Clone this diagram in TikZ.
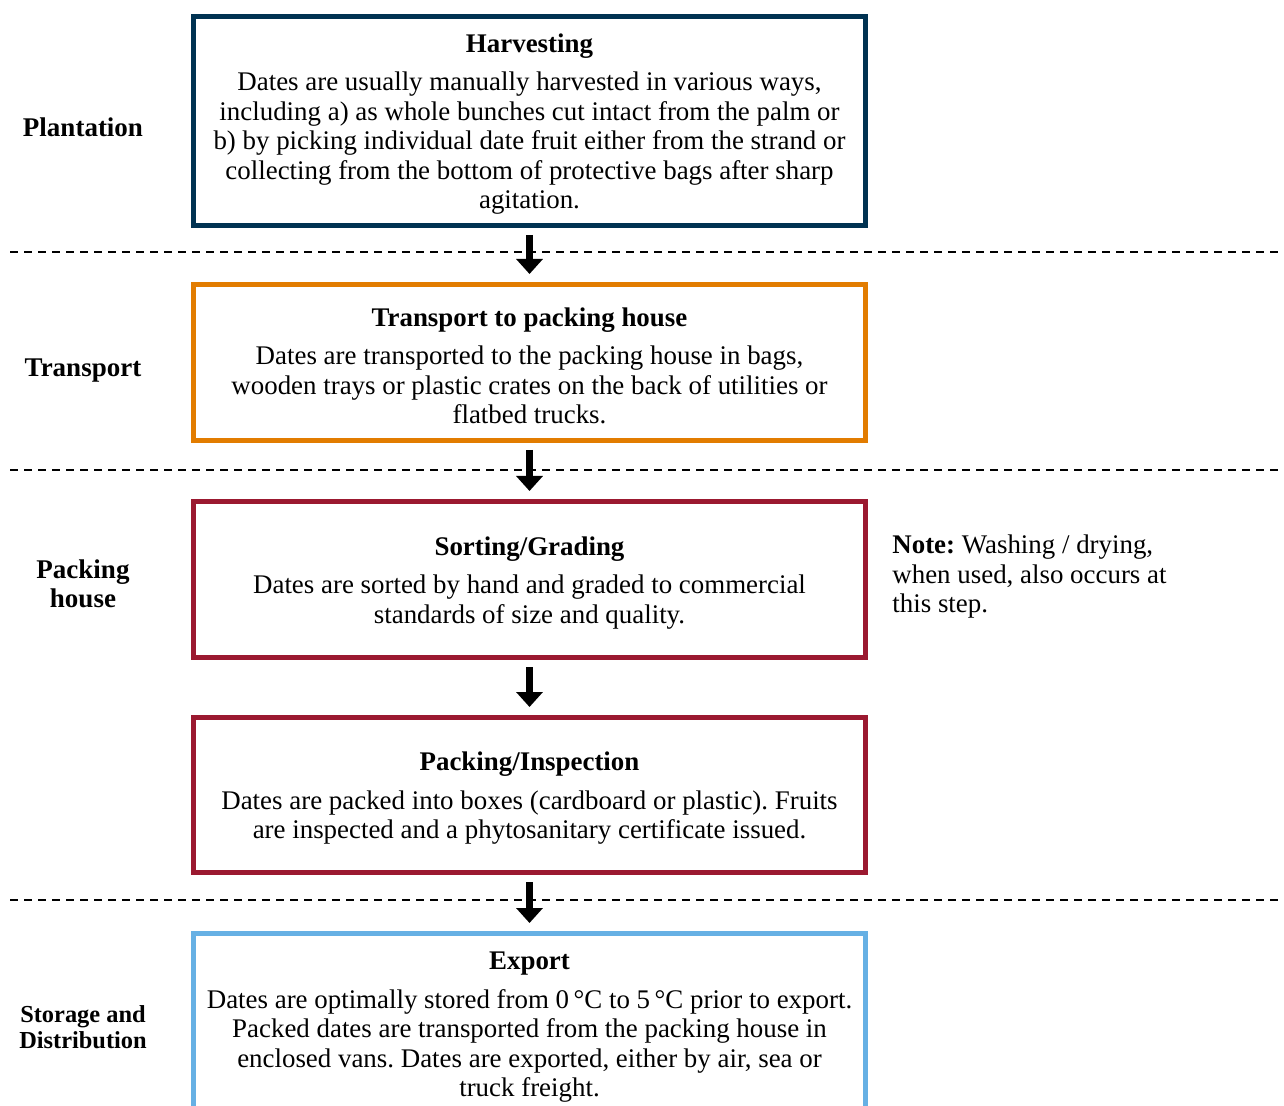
\documentclass[tikz,border=0pt]{standalone}
\usepackage{fontspec}
\setmainfont{Liberation Serif}
\usetikzlibrary{arrows.meta,positioning}
\definecolor{harvnavy}{RGB}{0,50,82}
\definecolor{transorange}{RGB}{226,124,0}
\definecolor{packred}{RGB}{155,25,48}
\definecolor{exportblue}{RGB}{102,176,228}
\frenchspacing
\newcommand{\steptitle}[1]{\rule{0pt}{12.5pt}\textbf{#1}}

\tikzset{
  stepbox/.style={draw=#1, line width=2.5pt, minimum width=336pt, align=center, inner sep=0pt,
    font=\fontsize{13.45}{14.75}\selectfont},
  stagelabel/.style={font=\bfseries\fontsize{13.5}{14.75}\selectfont, align=center, inner sep=0pt},
  flowarrow/.style={-{Triangle[width=13pt,length=7.5pt]}, line width=3.5pt, shorten <=3.5pt, shorten >=4pt},
  separator/.style={dash pattern=on 4pt off 3pt, line width=1pt}
}

\begin{document}
\begin{tikzpicture}[x=0.5pt,y=-0.5pt]
    \useasboundingbox (0,0) rectangle (1284,1106);
    \clip (0,0) rectangle (1284,1106);

    % stages
    \node[stepbox=harvnavy, minimum height=104.5pt] (harvest) at (529.5,121) {\steptitle{Harvesting}\\[4.5pt]
        Dates are usually manually harvested in various ways,\\
        including a) as whole bunches cut intact from the palm or\\
        b) by picking individual date fruit either from the strand or\\
        collecting from the bottom of protective bags after sharp\\
        agitation.};
    \node[stepbox=transorange, minimum height=78pt] (transport) at (529.5,362.5) {\steptitle{Transport to packing house}\\[4.5pt]
        Dates are transported to the packing house in bags,\\
        wooden trays or plastic crates on the back of utilities or\\
        flatbed trucks.};
    \node[stepbox=packred, minimum height=78pt] (sorting) at (529.5,579.5) {\steptitle{Sorting/Grading}\\[4.5pt]
        Dates are sorted by hand and graded to commercial\\
        standards of size and quality.};
    \node[stepbox=packred, minimum height=77.5pt] (packing) at (529.5,795) {\steptitle{Packing/Inspection}\\[4.5pt]
        Dates are packed into boxes (cardboard or plastic). Fruits\\
        are inspected and a phytosanitary certificate issued.};
    \node[stepbox=exportblue, minimum height=90pt] (export) at (529.5,1023.5) {\steptitle{Export}\\[4.5pt]
        Dates are optimally stored from 0\,°C to 5\,°C prior to export.\\
        Packed dates are transported from the packing house in\\
        enclosed vans. Dates are exported, either by air, sea or\\
        truck freight.};

    % stage names
    \node[stagelabel] (plantation) at (83,127) {Plantation};
    \node[stagelabel] (transportlbl) at (83,371) {Transport};
    \node[stagelabel] (packhouse) at (83,584) {Packing\\house};
    \node[stagelabel, font=\bfseries\fontsize{12.2}{13}\selectfont] (storage) at (83,1027) {Storage and\\Distribution};

    \node[anchor=west, align=left, inner sep=0pt, font=\fontsize{13.45}{14.75}\selectfont] (note) at (892,577)
        {\textbf{Note:} Washing / drying,\\ when used, also occurs at\\ this step.};

    % separators
    \draw[separator] (10,252) -- (1284,252);
    \draw[separator] (10,470) -- (1284,470);
    \draw[separator] (10,900) -- (1284,900);

    \draw[flowarrow] (harvest) -- (transport);
    \draw[flowarrow] (transport) -- (sorting);
    \draw[flowarrow] (sorting) -- (packing);
    \draw[flowarrow] (packing) -- (export);
\end{tikzpicture}
\end{document}
